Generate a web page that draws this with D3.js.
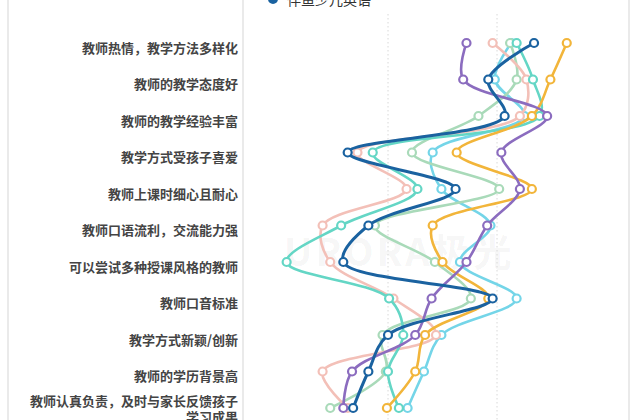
<!DOCTYPE html>
<html><head><meta charset="utf-8">
<script src="https://cdn.jsdelivr.net/npm/d3@7/dist/d3.min.js"></script>
<style>body{margin:0;background:#fff}svg{display:block}</style>
</head><body><svg id="c" width="640" height="420"></svg>
<script>
const categories = ["教师热情，教学方法多样化","教师的教学态度好","教师的教学经验丰富","教学方式受孩子喜爱","教师上课时细心且耐心","教师口语流利，交流能力强","可以尝试多种授课风格的教师","教师口音标准","教学方式新颖/创新","教师的学历背景高","教师认真负责，及时与家长反馈孩子学习成果"];
const seriesNames = ["s_lightcyan","s_lightgreen","s_pink","s_teal","s_orange","s_purple","伴鱼少儿英语"];
const lightCyan  = [31.3,29.8,32.5,24.1,24.9,29.4,26.6,31.8,24.9,23.3,21.8];
const lightGreen = [31.2,31.8,28.3,22.2,30.2,18.8,24.3,27.6,19.5,19.8,14.7];
const pink       = [29.6,32.7,32.1,17.2,21.7,14.0,14.7,20.5,24.4,14.0,16.3];
const teal       = [31.8,33.3,33.9,18.6,22.7,15.7,10.7,20.1,21.4,20.0,21.0];
const orange     = [36.4,34.9,33.2,26.3,33.2,24.1,25.0,29.2,23.4,22.5,19.9];
const purple     = [27.2,26.9,34.6,30.4,32.1,29.1,27.2,24.0,22.5,16.7,15.9];
const banyu      = [33.4,29.2,30.7,16.3,26.2,18.2,15.9,29.6,20.0,18.2,16.8];
const gridTicks = [20,30];
const colors = ["#74d5e8","#a9dab9","#f3c0b8","#64d6c5","#f2b53a","#8b6cbf","#1a62a0"];
const allSeries = [lightCyan,lightGreen,pink,teal,orange,purple,banyu];

const svg = d3.select("#c");
const x = d3.scaleLinear().domain([0,40]).range([170,606]);
const y = d3.scalePoint().domain(categories).range([43,408]);

// frame lines
[8,243,629].forEach(px=>svg.append("line").attr("x1",px).attr("x2",px).attr("y1",0).attr("y2",420).attr("stroke","#dcdcdc").attr("stroke-width",1.2));

// watermark
svg.append("text").attr("x",284).attr("y",266).attr("font-family","'Noto Sans CJK SC', sans-serif").attr("font-size",38).attr("font-weight",700)
  .attr("letter-spacing",3).attr("fill","#000").attr("fill-opacity",0.05).text("URORA极光");

// grid
svg.append("g").selectAll("line").data(gridTicks).join("line")
  .attr("x1",d=>x(d)).attr("x2",d=>x(d)).attr("y1",14).attr("y2",420)
  .attr("stroke","#d8d8d8").attr("stroke-dasharray","1.5,2.5");

// labels
const lab = svg.append("g").attr("font-family","'Noto Sans CJK SC', sans-serif").attr("font-size",13).attr("font-weight",700).attr("fill","#444").attr("text-anchor","end");
categories.forEach((c,i)=>{
  if(i===categories.length-1){
    const t = lab.append("text").attr("x",238).attr("y",y(c)-2);
    t.append("tspan").attr("x",238).attr("dy",0).text("教师认真负责，及时与家长反馈孩子");
    t.append("tspan").attr("x",238).attr("dy",16).text("学习成果");
  } else {
    lab.append("text").attr("x",238).attr("y",y(c)+4).attr("dominant-baseline","central").text(c);
  }
});

const line = d3.line().x(d=>x(d[0])).y(d=>y(d[1])).curve(d3.curveCatmullRom.alpha(0.5));
allSeries.forEach((vals,si)=>{
  const pts = vals.map((v,i)=>[v,categories[i]]);
  const g = svg.append("g");
  g.append("path").attr("d",line(pts)).attr("fill","none").attr("stroke",colors[si]).attr("stroke-width",si===6?3:2.6);
  g.selectAll("circle").data(pts).join("circle").attr("cx",d=>x(d[0])).attr("cy",d=>y(d[1])).attr("r",4)
    .attr("fill","#fff").attr("stroke",colors[si]).attr("stroke-width",2.2);
});

// legend (partially cropped)
svg.append("circle").attr("cx",273).attr("cy",-1).attr("r",5).attr("fill",colors[6]);
svg.append("text").attr("x",287).attr("y",-1).attr("dominant-baseline","central").attr("font-family","'Noto Sans CJK SC', sans-serif").attr("font-size",14).attr("fill","#333").text(seriesNames[6]);
</script></body></html>
